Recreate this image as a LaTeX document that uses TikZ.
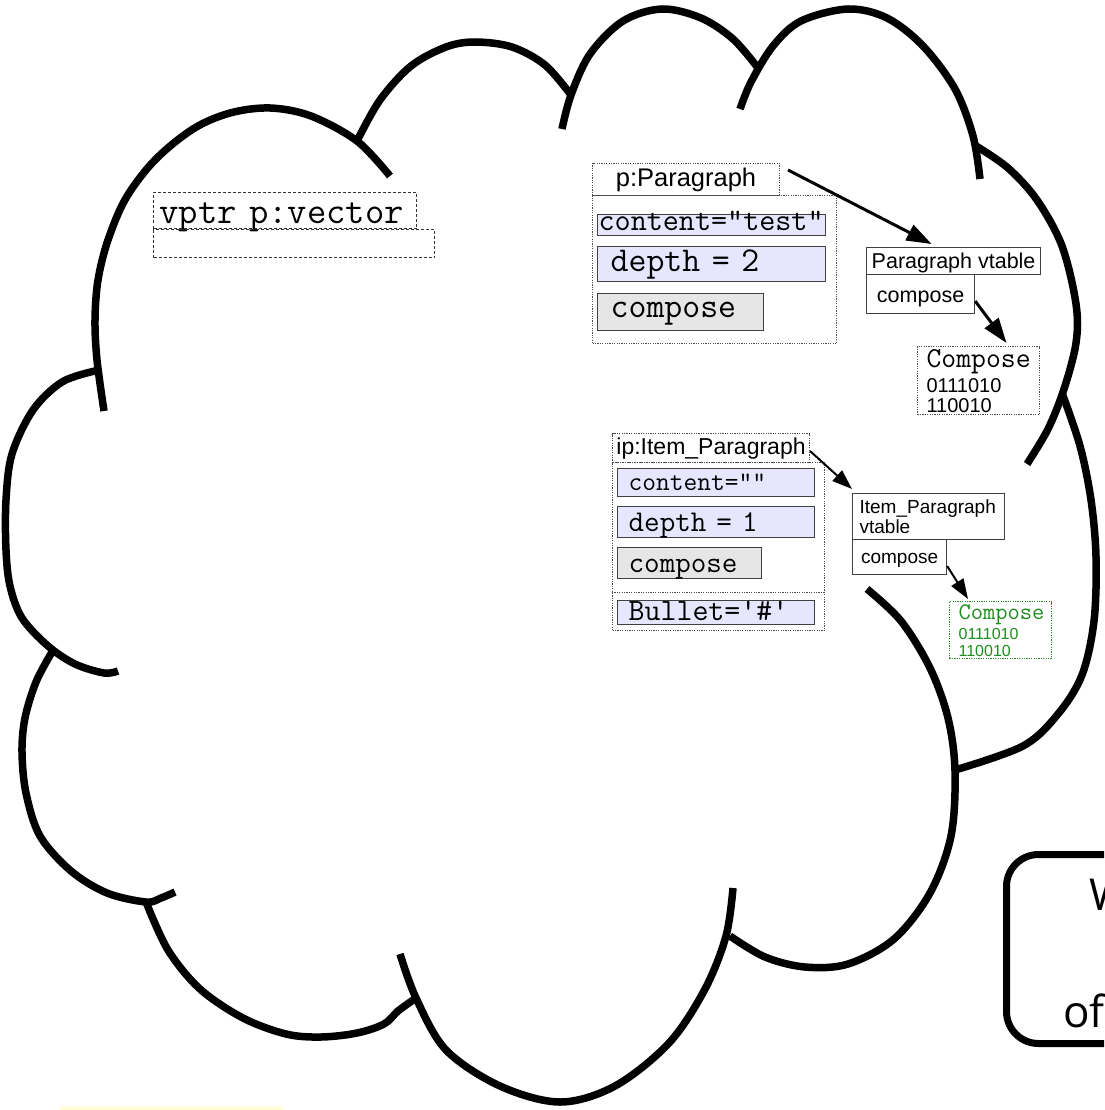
\documentclass[tikz,border=0pt]{standalone}
\usepackage{fontspec}
\usetikzlibrary{arrows.meta}
\newfontfamily\labelsans{Liberation Sans}
\newfontfamily\notesans{Open Sans}
\newcommand{\fsz}[2]{\fontsize{#1}{#2}\selectfont}
\definecolor{slotfill}{RGB}{230,230,255}
\definecolor{methfill}{RGB}{230,230,230}
\definecolor{codegreen}{RGB}{30,140,30}

\begin{document}
\begin{tikzpicture}[x=1pt, y=-1pt,
	cloud/.style={line width=7.5pt},
	cell/.style={anchor=north west, inner sep=0pt, align=left},
	dotline/.style={draw=black!70, line width=1pt, dash pattern=on 1.2pt off 1.2pt},
	dashbox/.style={cell, draw=black!80, line width=1pt, dash pattern=on 3pt off 2pt},
	dotbox/.style={cell, dotline},
	slot/.style={cell, draw=black!75, line width=1.3pt, fill=slotfill},
	meth/.style={slot, fill=methfill},
	vt/.style={cell, align=center, draw=black!75, line width=1.2pt, fill=white},
	fatarrow/.style={line width=3pt, -{Triangle[length=25pt,width=17pt]}},
	slimarrow/.style={line width=2pt, -{Triangle[length=20pt,width=14pt]}}]
	\useasboundingbox (0,0) rectangle (1104,1110);
	\clip (0,0) rectangle (1104,1110);
	\fill[yellow!14] (60,1106) rectangle (283,1111);

	% cloud outline, one bump at a time
	\draw[cloud] plot[smooth, tension=0.55] coordinates {(104,411) (97,360) (95,320) (98,280) (108,240) (126,198) (155,160) (193,129) (230,113) (270,108) (311,116) (357,141) (390,176)};
	\draw[cloud] plot[smooth, tension=0.55] coordinates {(357,141) (380,100) (411,66) (446,47) (475,42) (512,47) (545,65) (571,95)};
	\draw[cloud] plot[smooth, tension=0.55] coordinates {(562,129) (571,95) (590,54) (623,21) (662,9) (701,18) (733,39) (758,68)};
	\draw[cloud] plot[smooth, tension=0.55] coordinates {(740,109) (751,82) (773,46) (801,21) (848,9) (887,18) (923,46) (955,89) (973,136) (980,179)};
	\draw[cloud] plot[smooth, tension=0.55] coordinates {(976,146) (1008,168) (1037,200) (1062,246) (1076,304) (1076,343) (1064,389) (1048,429) (1027,464)};
	\draw[cloud] plot[smooth, tension=0.55] coordinates {(1062,393) (1080,446) (1091,500) (1096,557) (1094,621) (1082,675) (1058,714) (1023,746) (955,770)};
	\draw[cloud] plot[smooth, tension=0.55] coordinates {(867,589) (901,621) (930,668) (948,718) (955,771) (951,836) (930,893) (894,939) (848,964) (805,967) (765,957) (730,936)};
	\draw[cloud] plot[smooth, tension=0.55] coordinates {(400,954) (416,998) (446,1050) (500,1086) (560,1102) (615,1086) (669,1043) (705,989) (726,936) (733,888)};
	\draw[cloud] plot[smooth, tension=0.55] coordinates {(146,902) (168,950) (200,989) (243,1018) (286,1034) (321,1037) (357,1033) (384,1024) (398,1011) (416,998)};
	\draw[cloud] plot[smooth, tension=0.55] coordinates {(52,652) (36,682) (25,718) (22,752) (26,793) (40,836) (71,871) (107,893) (146,902) (161,898) (175,892)};
	\draw[cloud] plot[smooth, tension=0.55] coordinates {(95,371) (62,382) (33,410) (12,454) (6,500) (6,550) (10,586) (22,618) (48,646) (75,664) (104,673) (118,671)};

	\node[dashbox, text width=251pt, inner xsep=6pt, minimum height=36pt, text height=30.7pt, text depth=5.3pt, font=\ttfamily\fsz{37.5pt}{37.5pt}] (vptr) at (153,192) {vptr p:vector};
	\node[dashbox, minimum width=281pt, minimum height=28pt] (vptrslot) at (153,229) {};

	% object p
	\node[dotbox, minimum width=187pt, minimum height=32pt, align=center, text height=23pt, text depth=9pt, font=\labelsans\fsz{25.5pt}{25.5pt}] (pHead) at (592,163) {p:Paragraph};
	\node[dotbox, minimum width=244pt, minimum height=148pt] (pBody) at (592,195) {};
	\node[slot, text width=226pt, inner xsep=1pt, text height=16pt, text depth=5pt, font=\ttfamily\fsz{31.2pt}{31.2pt}] (pContent) at (597,214) {content=”test”};
	\node[slot, text width=202pt, inner xsep=13pt, text height=24.7pt, text depth=10.3pt, font=\ttfamily\fsz{34.8pt}{34.8pt}] (pDepth) at (597,246) {depth = 2};
	\node[meth, text width=140pt, inner xsep=13pt, text height=23.7pt, text depth=13.3pt, font=\ttfamily\fsz{34.8pt}{34.8pt}] (pCompose) at (597,293) {compose};

	\node[vt, minimum width=174pt, text height=21pt, text depth=6pt, font=\labelsans\fsz{21.5pt}{21.5pt}] (pvt) at (866,247) {Paragraph vtable};
	\node[vt, minimum width=108pt, text height=28pt, text depth=11pt, font=\labelsans\fsz{21.5pt}{21.5pt}] (pvtCompose) at (866,274) {compose};
	\node[dotbox, text width=104pt, inner xsep=9pt, text height=21pt, text depth=47pt, font=\labelsans\fsz{20pt}{20pt}] (pCode) at (917,346) {{\ttfamily\fsz{28.9pt}{20pt}Compose}\\[4pt]0111010\\110010};

	% object ip
	\node[dotbox, minimum width=197pt, minimum height=29pt, align=center, text height=21pt, text depth=8pt, font=\labelsans\fsz{23pt}{23pt}] (ipHead) at (612,433) {ip:Item\_Paragraph};
	\node[dotbox, minimum width=212pt, minimum height=168pt] (ipBody) at (612,462) {};
	\draw[dotline] ([yshift=39pt]ipBody.south west) -- ([yshift=39pt]ipBody.south east);
	\node[slot, text width=175pt, inner xsep=11pt, text height=22pt, text depth=6pt, font=\ttfamily\fsz{26.7pt}{26.7pt}] (ipContent) at (617,468) {content=””};
	\node[slot, text width=175pt, inner xsep=11pt, text height=25pt, text depth=6pt, font=\ttfamily\fsz{30.2pt}{30.2pt}] (ipDepth) at (617,506) {depth = 1};
	\node[meth, text width=122pt, inner xsep=11pt, text height=25pt, text depth=6pt, font=\ttfamily\fsz{30.2pt}{30.2pt}] (ipCompose) at (617,547) {compose};
	\node[slot, text width=175pt, inner xsep=11pt, text height=20pt, text depth=4pt, font=\ttfamily\fsz{31pt}{31pt}] (ipBullet) at (617,600) {Bullet=\textquotesingle\#\textquotesingle};

	\node[vt, align=left, text width=138pt, inner xsep=7pt, text height=20pt, text depth=26pt, font=\labelsans\fsz{19pt}{20pt}] (ipvt) at (852,493) {Item\_Paragraph\\vtable};
	\node[vt, minimum width=94pt, text height=24pt, text depth=11pt, font=\labelsans\fsz{19pt}{19pt}] (ipvtCompose) at (852,539) {compose};
	\node[dotbox, draw=codegreen, text=codegreen, line width=1.2pt, text width=84pt, inner xsep=9pt, text height=18pt, text depth=39pt, font=\labelsans\fsz{16pt}{16pt}] (ipCode) at (949,601) {{\ttfamily\fsz{23.8pt}{16pt}Compose}\\[2pt]0111010\\[1pt]110010};

	\draw[fatarrow] ([xshift=8pt,yshift=-7pt]pHead.north east) -- ([xshift=-22pt,yshift=3pt]pvt.north);
	\draw[fatarrow] ([yshift=-7pt]pvtCompose.east) -- ([xshift=28pt,yshift=3pt]pCode.north);
	\draw[slimarrow] ([yshift=-3pt]ipHead.east) -- ([yshift=4pt]ipvt.north west);
	\draw[slimarrow] ([yshift=-9pt]ipvtCompose.east) -- ([xshift=19pt,yshift=2pt]ipCode.north west);

	% note box running off the edge
	\node[cell, draw, line width=7pt, rounded corners=32pt, minimum width=400pt, minimum height=189pt] (note) at (1003,851) {};
	\node[anchor=base west, inner sep=0pt, font=\notesans\fsz{44pt}{44pt}] (noteW) at (1089,910) {W};
	\node[anchor=base west, inner sep=0pt, font=\notesans\fsz{44pt}{44pt}] (noteOf) at (1063,1027) {of};
\end{tikzpicture}
\end{document}
